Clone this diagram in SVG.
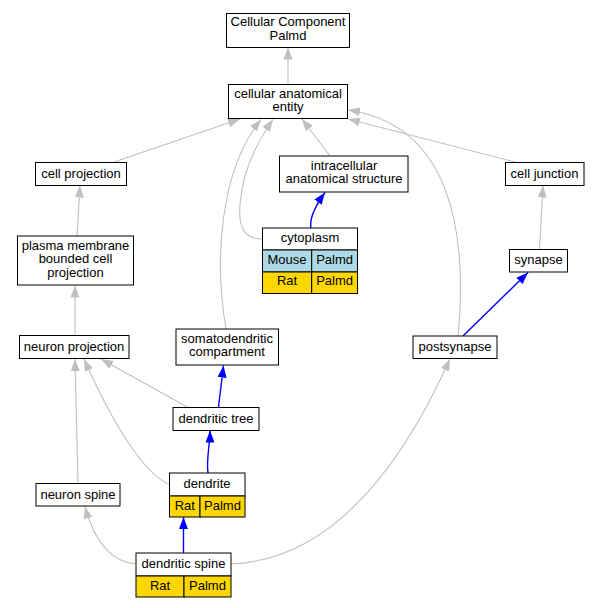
<svg xmlns="http://www.w3.org/2000/svg" width="599" height="608" viewBox="0 0 599 608">
<style>
.box{fill:#fff;stroke:#000;stroke-width:1}
.mouse{fill:#add8e6;stroke:#000;stroke-width:1}
.rat{fill:#ffd700;stroke:#000;stroke-width:1}
text{font-family:"Liberation Sans",Arial,sans-serif;font-size:13px;fill:#000;text-anchor:middle}
.g{fill:none;stroke:#c0c0c0;stroke-width:1.1}
.b{fill:none;stroke:#0000ff;stroke-width:1.4}
</style>
<defs>
<marker id="ag" markerUnits="userSpaceOnUse" markerWidth="12" markerHeight="10" refX="12" refY="5" orient="auto"><path d="M0,0.5 L12,5 L0,9.5 z" fill="#c0c0c0"/></marker>
<marker id="ab" markerUnits="userSpaceOnUse" markerWidth="12" markerHeight="10" refX="12" refY="5" orient="auto"><path d="M0,0.5 L12,5 L0,9.5 z" fill="#0000ff"/></marker>
</defs>
<rect width="599" height="608" fill="#fff"/>
<g id="edges">
<path class="g" marker-end="url(#ag)" d="M288,84 L288,47.5"/>
<path class="g" marker-end="url(#ag)" d="M114,162 L240,119"/>
<path class="g" marker-end="url(#ag)" d="M330,156 L302,119"/>
<path class="g" marker-end="url(#ag)" d="M515,162 L348,119"/>
<path class="g" marker-end="url(#ag)" d="M458,336 C468,230 450,125 348,110"/>
<path class="g" marker-end="url(#ag)" d="M226,329 C214,260 220,170 261,119.5"/>
<path class="g" marker-end="url(#ag)" d="M262,239 C245,239 238,228 240,205 C242,175 255,145 273,119.5"/>
<path class="g" marker-end="url(#ag)" d="M77,236 L80,185.5"/>
<path class="g" marker-end="url(#ag)" d="M539.5,249 L543,185.5"/>
<path class="g" marker-end="url(#ag)" d="M75,335 L75,285.5"/>
<path class="g" marker-end="url(#ag)" d="M78,483 L75,359"/>
<path class="g" marker-end="url(#ag)" d="M169,484 C150,477 120,440 84,359"/>
<path class="g" marker-end="url(#ag)" d="M188,407.5 L101,359"/>
<path class="g" marker-end="url(#ag)" d="M136,564 C115,563 95,545 85,506.5"/>
<path class="g" marker-end="url(#ag)" d="M231,564 C330,560 400,470 450,359"/>
<path class="b" marker-end="url(#ab)" d="M311,228 C309,218 316,205 325,192.5"/>
<path class="b" marker-end="url(#ab)" d="M463,336 L528,272.5"/>
<path class="b" marker-end="url(#ab)" d="M218.5,407 L223.5,365.5"/>
<path class="b" marker-end="url(#ab)" d="M208,473 C206,460 210,445 210,430.5"/>
<path class="b" marker-end="url(#ab)" d="M183.5,553 L183.5,517"/>
</g>
<g id="cc_palmd"><rect class="box" x="226.5" y="13.5" width="123" height="34"/><text x="288" y="26">Cellular Component</text><text x="288" y="39.5">Palmd</text></g>
<g id="cellular_anatomical_entity"><rect class="box" x="228.5" y="84.5" width="119" height="34"/><text x="288" y="97.5">cellular anatomical</text><text x="288" y="111">entity</text></g>
<g id="cell_projection"><rect class="box" x="35.5" y="162.5" width="91" height="23"/><text x="81" y="177.5">cell projection</text></g>
<g id="intracellular_anatomical_structure"><rect class="box" x="279.5" y="156" width="128.5" height="36"/><text x="344" y="169.5">intracellular</text><text x="344" y="183">anatomical structure</text></g>
<g id="cell_junction"><rect class="box" x="505.5" y="162.5" width="78.5" height="23"/><text x="544.5" y="177.5">cell junction</text></g>
<g id="plasma_membrane_bounded_cell_projection"><rect class="box" x="17.5" y="236" width="116" height="49"/><text x="75.5" y="249.5">plasma membrane</text><text x="75.5" y="263">bounded cell</text><text x="75.5" y="276.5">projection</text></g>
<g id="cytoplasm"><rect class="box" x="262.5" y="228" width="95" height="22"/><rect class="mouse" x="262.5" y="250" width="49.2" height="22"/><rect class="mouse" x="311.7" y="250" width="45.8" height="22"/><rect class="rat" x="262.5" y="272" width="49.2" height="21.5"/><rect class="rat" x="311.7" y="272" width="45.8" height="21.5"/><text x="310" y="242">cytoplasm</text><text x="287" y="263.5">Mouse</text><text x="334.6" y="263.5">Palmd</text><text x="287" y="285">Rat</text><text x="334.6" y="285">Palmd</text></g>
<g id="synapse"><rect class="box" x="509.5" y="249.5" width="58" height="22.5"/><text x="538.5" y="264">synapse</text></g>
<g id="neuron_projection"><rect class="box" x="19.5" y="335.5" width="109.5" height="23"/><text x="74" y="350.5">neuron projection</text></g>
<g id="somatodendritic_compartment"><rect class="box" x="176" y="329" width="102.5" height="36"/><text x="227" y="342.5">somatodendritic</text><text x="227" y="356">compartment</text></g>
<g id="postsynapse"><rect class="box" x="413" y="336" width="84" height="22.5"/><text x="455" y="351">postsynapse</text></g>
<g id="dendritic_tree"><rect class="box" x="173" y="407.5" width="86" height="23"/><text x="216" y="422.5">dendritic tree</text></g>
<g id="dendrite"><rect class="box" x="169.5" y="473" width="75.5" height="23"/><rect class="rat" x="169.5" y="496" width="30.5" height="21"/><rect class="rat" x="200" y="496" width="45" height="21"/><text x="207" y="488">dendrite</text><text x="184.75" y="510">Rat</text><text x="222.5" y="510">Palmd</text></g>
<g id="neuron_spine"><rect class="box" x="36" y="483.5" width="84" height="22.5"/><text x="78" y="498.5">neuron spine</text></g>
<g id="dendritic_spine"><rect class="box" x="136" y="553" width="95" height="23"/><rect class="rat" x="136" y="576" width="48" height="21"/><rect class="rat" x="184" y="576" width="47" height="21"/><text x="183.5" y="568">dendritic spine</text><text x="160" y="590">Rat</text><text x="207.5" y="590">Palmd</text></g>
</svg>
